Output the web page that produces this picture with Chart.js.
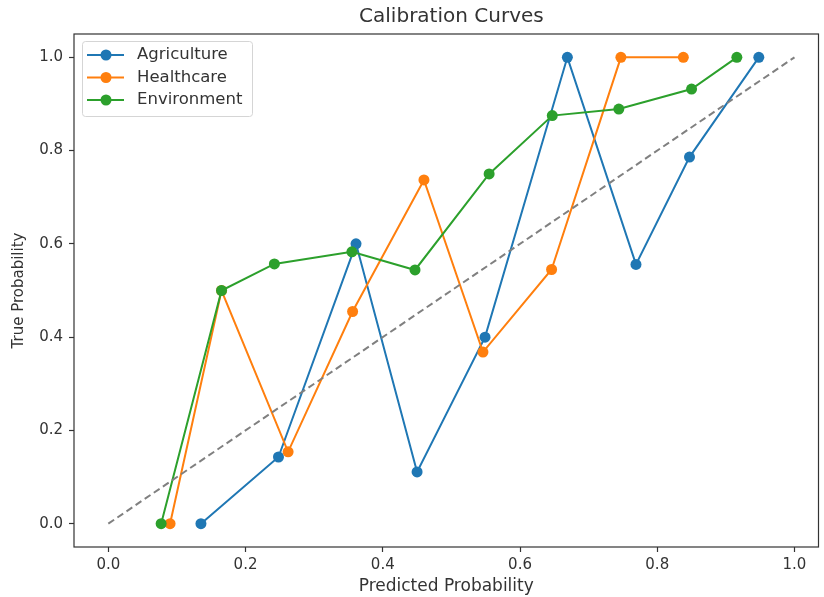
<!DOCTYPE html>
<html>
<head>
<meta charset="utf-8">
<script src="https://cdn.jsdelivr.net/npm/chart.js@4"></script>
<style>
  html, body { margin: 0; padding: 0; background: #fff; }
  #wrap { width: 824px; height: 597px; }
</style>
</head>
<body>
<div id="wrap"><canvas id="myChart"></canvas></div>
<script>
var chartTitle = 'Calibration Curves';
var seriesNames = ['Agriculture', 'Healthcare', 'Environment'];
var agriX = [0.135, 0.248, 0.361, 0.450, 0.549, 0.669, 0.769, 0.847, 0.948];
var agriY = [0.0, 0.143, 0.600, 0.111, 0.400, 1.0, 0.556, 0.786, 1.0];
var healthX = [0.090, 0.165, 0.262, 0.356, 0.460, 0.546, 0.646, 0.747, 0.838];
var healthY = [0.0, 0.500, 0.154, 0.455, 0.737, 0.368, 0.545, 1.0, 1.0];
var envX = [0.077, 0.165, 0.242, 0.355, 0.447, 0.555, 0.647, 0.744, 0.850, 0.916];
var envY = [0.0, 0.500, 0.557, 0.583, 0.544, 0.750, 0.875, 0.889, 0.932, 1.0];
var diagX = [0, 1];
var diagY = [0, 1];
var tickValues = [0, 0.2, 0.4, 0.6, 0.8, 1.0];

var colors = ['#1f77b4', '#ff7f0e', '#2ca02c'];
var textColor = '#333333';
var fontFamily = '"DejaVu Sans", sans-serif';

function pts(xs, ys) {
    return xs.map(function (x, i) { return { x: x, y: ys[i] }; });
}

function curve(i, xs, ys) {
    return {
        label: seriesNames[i],
        data: pts(xs, ys),
        showLine: true,
        borderColor: colors[i],
        backgroundColor: colors[i],
        borderWidth: 2,
        pointRadius: 5.5,
        pointHoverRadius: 5.5,
        pointBorderWidth: 0,
        order: 3 - i
    };
}

// axes box (matplotlib-style spines)
var frame = {
    id: 'frame',
    afterDatasetsDraw: function (chart) {
        var a = chart.chartArea, c = chart.ctx;
        c.save();
        c.strokeStyle = '#333333';
        c.lineWidth = 1.2;
        c.strokeRect(a.left, a.top, a.right - a.left, a.bottom - a.top);
        c.restore();
    }
};

// title centred over the axes, like matplotlib
var axesTitle = {
    id: 'axesTitle',
    afterDraw: function (chart) {
        var c = chart.ctx;
        var cx = chart.scales.x.getPixelForValue(0.5);
        c.save();
        c.fillStyle = textColor;
        c.font = '20px ' + fontFamily;
        c.textAlign = 'center';
        c.textBaseline = 'middle';
        c.fillText(chartTitle, cx, 17);
        c.restore();
    }
};

// legend drawn inside the plot, upper left
var innerLegend = {
    id: 'innerLegend',
    afterDraw: function (chart) {
        var c = chart.ctx, a = chart.chartArea;
        var x0 = a.left + 8, y0 = a.top + 7, w = 170, h = 75, rowH = 22.5;
        c.save();
        c.fillStyle = 'rgba(255,255,255,0.8)';
        c.strokeStyle = '#d5d5d5';
        c.lineWidth = 1;
        c.beginPath();
        c.roundRect(x0 + 0.5, y0 + 0.5, w, h, 3);
        c.fill();
        c.stroke();
        c.font = '16.5px ' + fontFamily;
        c.textBaseline = 'middle';
        for (var i = 0; i < seriesNames.length; i++) {
            var y = y0 + 14 + i * rowH;
            c.strokeStyle = colors[i];
            c.fillStyle = colors[i];
            c.lineWidth = 2;
            c.beginPath();
            c.moveTo(x0 + 5, y);
            c.lineTo(x0 + 42, y);
            c.stroke();
            c.beginPath();
            c.arc(x0 + 24, y, 5.5, 0, Math.PI * 2);
            c.fill();
            c.fillStyle = textColor;
            c.fillText(seriesNames[i], x0 + 55, y);
        }
        c.restore();
    }
};

var ctx = document.getElementById('myChart').getContext('2d');
var myChart = new Chart(ctx, {
    type: 'scatter',
    data: {
        datasets: [
            curve(0, agriX, agriY),
            curve(1, healthX, healthY),
            curve(2, envX, envY),
            {
                label: 'diagonal',
                data: pts(diagX, diagY),
                showLine: true,
                borderColor: '#808080',
                borderWidth: 2,
                borderDash: [7, 4],
                pointRadius: 0,
                order: 0
            }
        ]
    },
    options: {
        responsive: true,
        maintainAspectRatio: false,
        animation: false,
        layout: { padding: { left: 0, right: 5, top: 34, bottom: 0 } },
        plugins: {
            legend: { display: false },
            tooltip: { enabled: false },
            title: { display: false }
        },
        scales: {
            x: {
                type: 'linear',
                min: -0.05,
                max: 1.035,
                afterFit: function (s) { s.height = 50; },
                afterBuildTicks: function (s) {
                    s.ticks = tickValues.map(function (v) { return { value: v }; });
                },
                border: { display: false },
                grid: { drawOnChartArea: false, drawTicks: true, tickLength: 5, color: '#333333', tickWidth: 1.2 },
                ticks: {
                    color: textColor,
                    padding: 4,
                    maxRotation: 0,
                    font: { family: fontFamily, size: 15 },
                    callback: function (v) { return v.toFixed(1); }
                },
                title: {
                    display: true,
                    text: 'Predicted Probability',
                    color: textColor,
                    font: { family: fontFamily, size: 17 },
                    padding: { top: 0, bottom: 0 }
                }
            },
            y: {
                type: 'linear',
                min: -0.05,
                max: 1.05,
                afterFit: function (s) { s.width = 74; },
                afterBuildTicks: function (s) {
                    s.ticks = tickValues.map(function (v) { return { value: v }; });
                },
                border: { display: false },
                grid: { drawOnChartArea: false, drawTicks: true, tickLength: 5, color: '#333333', tickWidth: 1.2 },
                ticks: {
                    color: textColor,
                    padding: 6,
                    font: { family: fontFamily, size: 15 },
                    callback: function (v) { return v.toFixed(1); }
                },
                title: {
                    display: true,
                    text: 'True Probability',
                    color: textColor,
                    font: { family: fontFamily, size: 15 },
                    padding: { top: 10, bottom: 0 }
                }
            }
        }
    },
    plugins: [frame, axesTitle, innerLegend]
});
</script>
</body>
</html>
